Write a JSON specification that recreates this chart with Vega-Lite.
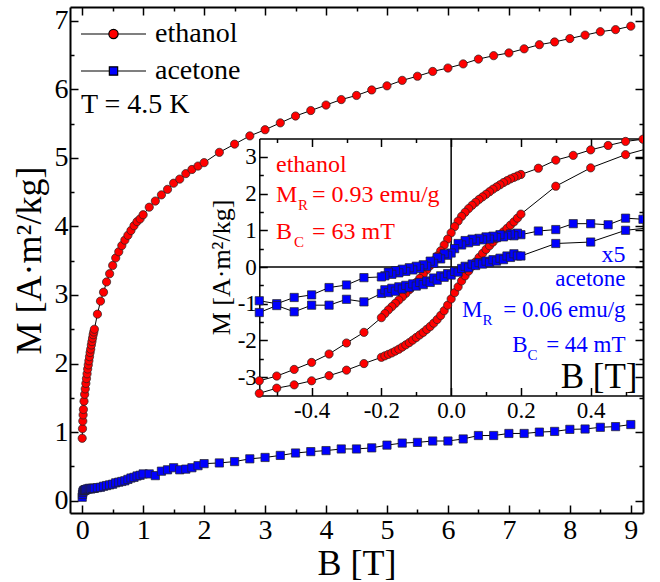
{
"$schema":"https://vega.github.io/schema/vega-lite/v6.json",
"width":573,"height":506,
"autosize":"none",
"padding":{"left":70,"top":7,"right":17,"bottom":69},
"background":"white",
"config":{"view":{"stroke":null},"font":"Liberation Serif",
"axis":{"grid":false,"domainColor":"#000","tickColor":"#000","labelColor":"#000","titleColor":"#000","labelFont":"Liberation Serif","titleFont":"Liberation Serif","titleFontWeight":"normal","labelFlush":false,"labelOverlap":false,"labelBound":false,"tickWidth":1.5,"domainWidth":2}},
"data":{"values":[{}]},
"datasets":{
"main":[
{"s":"ethanol","B":0,"M":0.91},{"s":"ethanol","B":0.005,"M":1.05},{"s":"ethanol","B":0.01,"M":1.16},{"s":"ethanol","B":0.015,"M":1.25},{"s":"ethanol","B":0.02,"M":1.33},{"s":"ethanol","B":0.03,"M":1.45},{"s":"ethanol","B":0.04,"M":1.55},{"s":"ethanol","B":0.05,"M":1.63},{"s":"ethanol","B":0.06,"M":1.71},{"s":"ethanol","B":0.07,"M":1.78},{"s":"ethanol","B":0.08,"M":1.85},{"s":"ethanol","B":0.09,"M":1.92},{"s":"ethanol","B":0.1,"M":1.98},{"s":"ethanol","B":0.11,"M":2.04},{"s":"ethanol","B":0.12,"M":2.1},{"s":"ethanol","B":0.13,"M":2.16},{"s":"ethanol","B":0.14,"M":2.21},{"s":"ethanol","B":0.15,"M":2.27},{"s":"ethanol","B":0.16,"M":2.32},{"s":"ethanol","B":0.17,"M":2.37},{"s":"ethanol","B":0.18,"M":2.42},{"s":"ethanol","B":0.19,"M":2.46},{"s":"ethanol","B":0.2,"M":2.5},
{"s":"ethanol","B":0.25,"M":2.72},{"s":"ethanol","B":0.3,"M":2.91},{"s":"ethanol","B":0.35,"M":3.04},{"s":"ethanol","B":0.4,"M":3.19},{"s":"ethanol","B":0.45,"M":3.31},{"s":"ethanol","B":0.5,"M":3.43},{"s":"ethanol","B":0.55,"M":3.54},{"s":"ethanol","B":0.6,"M":3.63},{"s":"ethanol","B":0.65,"M":3.72},{"s":"ethanol","B":0.7,"M":3.8},{"s":"ethanol","B":0.75,"M":3.87},{"s":"ethanol","B":0.8,"M":3.94},{"s":"ethanol","B":0.85,"M":4.01},{"s":"ethanol","B":0.9,"M":4.07},{"s":"ethanol","B":0.95,"M":4.11},{"s":"ethanol","B":1,"M":4.17},
{"s":"ethanol","B":1.1,"M":4.28},{"s":"ethanol","B":1.2,"M":4.37},{"s":"ethanol","B":1.3,"M":4.46},{"s":"ethanol","B":1.4,"M":4.54},{"s":"ethanol","B":1.5,"M":4.63},{"s":"ethanol","B":1.6,"M":4.69},{"s":"ethanol","B":1.7,"M":4.77},{"s":"ethanol","B":1.8,"M":4.83},{"s":"ethanol","B":1.9,"M":4.88},{"s":"ethanol","B":2,"M":4.93},
{"s":"ethanol","B":2.25,"M":5.08},{"s":"ethanol","B":2.5,"M":5.2},{"s":"ethanol","B":2.75,"M":5.32},{"s":"ethanol","B":3,"M":5.41},{"s":"ethanol","B":3.25,"M":5.51},{"s":"ethanol","B":3.5,"M":5.61},{"s":"ethanol","B":3.75,"M":5.69},{"s":"ethanol","B":4,"M":5.77},{"s":"ethanol","B":4.25,"M":5.85},{"s":"ethanol","B":4.5,"M":5.91},{"s":"ethanol","B":4.75,"M":5.99},{"s":"ethanol","B":5,"M":6.05},{"s":"ethanol","B":5.25,"M":6.13},{"s":"ethanol","B":5.5,"M":6.19},{"s":"ethanol","B":5.75,"M":6.26},{"s":"ethanol","B":6,"M":6.31},{"s":"ethanol","B":6.25,"M":6.37},{"s":"ethanol","B":6.5,"M":6.44},{"s":"ethanol","B":6.75,"M":6.49},{"s":"ethanol","B":7,"M":6.53},{"s":"ethanol","B":7.25,"M":6.59},{"s":"ethanol","B":7.5,"M":6.65},{"s":"ethanol","B":7.75,"M":6.69},{"s":"ethanol","B":8,"M":6.74},{"s":"ethanol","B":8.25,"M":6.79},{"s":"ethanol","B":8.5,"M":6.84},{"s":"ethanol","B":8.75,"M":6.87},{"s":"ethanol","B":9,"M":6.92},
{"s":"acetone","B":0,"M":0.05},{"s":"acetone","B":0.005,"M":0.09},{"s":"acetone","B":0.01,"M":0.12},{"s":"acetone","B":0.02,"M":0.14},{"s":"acetone","B":0.03,"M":0.15},{"s":"acetone","B":0.04,"M":0.15},{"s":"acetone","B":0.05,"M":0.16},{"s":"acetone","B":0.06,"M":0.16},{"s":"acetone","B":0.08,"M":0.17},{"s":"acetone","B":0.1,"M":0.17},{"s":"acetone","B":0.12,"M":0.18},{"s":"acetone","B":0.14,"M":0.17},{"s":"acetone","B":0.16,"M":0.18},{"s":"acetone","B":0.18,"M":0.18},{"s":"acetone","B":0.2,"M":0.18},
{"s":"acetone","B":0.25,"M":0.19},{"s":"acetone","B":0.3,"M":0.195},{"s":"acetone","B":0.35,"M":0.21},{"s":"acetone","B":0.4,"M":0.22},{"s":"acetone","B":0.45,"M":0.23},{"s":"acetone","B":0.5,"M":0.24},{"s":"acetone","B":0.55,"M":0.26},{"s":"acetone","B":0.6,"M":0.27},{"s":"acetone","B":0.65,"M":0.28},{"s":"acetone","B":0.7,"M":0.29},{"s":"acetone","B":0.75,"M":0.31},{"s":"acetone","B":0.8,"M":0.33},{"s":"acetone","B":0.85,"M":0.34},{"s":"acetone","B":0.9,"M":0.36},{"s":"acetone","B":0.95,"M":0.37},{"s":"acetone","B":1,"M":0.39},
{"s":"acetone","B":1.1,"M":0.39},{"s":"acetone","B":1.2,"M":0.365},{"s":"acetone","B":1.3,"M":0.43},{"s":"acetone","B":1.4,"M":0.45},{"s":"acetone","B":1.5,"M":0.48},{"s":"acetone","B":1.6,"M":0.45},{"s":"acetone","B":1.7,"M":0.46},{"s":"acetone","B":1.8,"M":0.48},{"s":"acetone","B":1.9,"M":0.51},{"s":"acetone","B":2,"M":0.54},
{"s":"acetone","B":2.25,"M":0.55},{"s":"acetone","B":2.5,"M":0.57},{"s":"acetone","B":2.75,"M":0.61},{"s":"acetone","B":3,"M":0.63},{"s":"acetone","B":3.25,"M":0.66},{"s":"acetone","B":3.5,"M":0.695},{"s":"acetone","B":3.75,"M":0.715},{"s":"acetone","B":4,"M":0.73},{"s":"acetone","B":4.25,"M":0.754},{"s":"acetone","B":4.5,"M":0.754},{"s":"acetone","B":4.75,"M":0.77},{"s":"acetone","B":5,"M":0.81},{"s":"acetone","B":5.25,"M":0.84},{"s":"acetone","B":5.5,"M":0.85},{"s":"acetone","B":5.75,"M":0.87},{"s":"acetone","B":6,"M":0.87},{"s":"acetone","B":6.25,"M":0.9},{"s":"acetone","B":6.5,"M":0.95},{"s":"acetone","B":6.75,"M":0.95},{"s":"acetone","B":7,"M":0.98},{"s":"acetone","B":7.25,"M":0.98},{"s":"acetone","B":7.5,"M":1.0},{"s":"acetone","B":7.75,"M":1.01},{"s":"acetone","B":8,"M":1.04},{"s":"acetone","B":8.25,"M":1.045},{"s":"acetone","B":8.5,"M":1.07},{"s":"acetone","B":8.75,"M":1.08},{"s":"acetone","B":9,"M":1.11}
],
"loop":[
{"s":"ethanol","br":"down","B":0.55,"M":3.48},{"s":"ethanol","br":"down","B":0.5,"M":3.42},{"s":"ethanol","br":"down","B":0.45,"M":3.31},{"s":"ethanol","br":"down","B":0.4,"M":3.19},{"s":"ethanol","br":"down","B":0.35,"M":3.04},{"s":"ethanol","br":"down","B":0.3,"M":2.91},{"s":"ethanol","br":"down","B":0.25,"M":2.69},
{"s":"ethanol","br":"down","B":0.2,"M":2.52},{"s":"ethanol","br":"down","B":0.19,"M":2.48},{"s":"ethanol","br":"down","B":0.18,"M":2.44},{"s":"ethanol","br":"down","B":0.17,"M":2.4},{"s":"ethanol","br":"down","B":0.16,"M":2.35},{"s":"ethanol","br":"down","B":0.15,"M":2.3},{"s":"ethanol","br":"down","B":0.14,"M":2.24},{"s":"ethanol","br":"down","B":0.13,"M":2.18},{"s":"ethanol","br":"down","B":0.12,"M":2.12},{"s":"ethanol","br":"down","B":0.11,"M":2.05},{"s":"ethanol","br":"down","B":0.1,"M":1.98},{"s":"ethanol","br":"down","B":0.09,"M":1.91},{"s":"ethanol","br":"down","B":0.08,"M":1.84},{"s":"ethanol","br":"down","B":0.07,"M":1.76},{"s":"ethanol","br":"down","B":0.06,"M":1.68},{"s":"ethanol","br":"down","B":0.05,"M":1.59},{"s":"ethanol","br":"down","B":0.04,"M":1.49},{"s":"ethanol","br":"down","B":0.03,"M":1.38},{"s":"ethanol","br":"down","B":0.02,"M":1.25},{"s":"ethanol","br":"down","B":0.01,"M":1.1},{"s":"ethanol","br":"down","B":0,"M":0.93},{"s":"ethanol","br":"down","B":-0.01,"M":0.76},{"s":"ethanol","br":"down","B":-0.02,"M":0.6},{"s":"ethanol","br":"down","B":-0.03,"M":0.44},{"s":"ethanol","br":"down","B":-0.04,"M":0.3},{"s":"ethanol","br":"down","B":-0.05,"M":0.17},{"s":"ethanol","br":"down","B":-0.06,"M":0.04},{"s":"ethanol","br":"down","B":-0.07,"M":-0.08},{"s":"ethanol","br":"down","B":-0.08,"M":-0.2},{"s":"ethanol","br":"down","B":-0.09,"M":-0.31},{"s":"ethanol","br":"down","B":-0.1,"M":-0.42},{"s":"ethanol","br":"down","B":-0.11,"M":-0.52},{"s":"ethanol","br":"down","B":-0.12,"M":-0.62},{"s":"ethanol","br":"down","B":-0.13,"M":-0.72},{"s":"ethanol","br":"down","B":-0.14,"M":-0.81},{"s":"ethanol","br":"down","B":-0.15,"M":-0.9},{"s":"ethanol","br":"down","B":-0.16,"M":-0.99},{"s":"ethanol","br":"down","B":-0.17,"M":-1.08},{"s":"ethanol","br":"down","B":-0.18,"M":-1.17},{"s":"ethanol","br":"down","B":-0.19,"M":-1.27},{"s":"ethanol","br":"down","B":-0.2,"M":-1.38},
{"s":"ethanol","br":"down","B":-0.25,"M":-1.78},{"s":"ethanol","br":"down","B":-0.3,"M":-2.07},{"s":"ethanol","br":"down","B":-0.35,"M":-2.37},{"s":"ethanol","br":"down","B":-0.4,"M":-2.6},{"s":"ethanol","br":"down","B":-0.45,"M":-2.79},{"s":"ethanol","br":"down","B":-0.5,"M":-2.97},{"s":"ethanol","br":"down","B":-0.55,"M":-3.1},
{"s":"ethanol","br":"up","B":-0.55,"M":-3.44},{"s":"ethanol","br":"up","B":-0.5,"M":-3.3},{"s":"ethanol","br":"up","B":-0.45,"M":-3.21},{"s":"ethanol","br":"up","B":-0.4,"M":-3.1},{"s":"ethanol","br":"up","B":-0.35,"M":-2.96},{"s":"ethanol","br":"up","B":-0.3,"M":-2.81},{"s":"ethanol","br":"up","B":-0.25,"M":-2.63},
{"s":"ethanol","br":"up","B":-0.2,"M":-2.46},{"s":"ethanol","br":"up","B":-0.19,"M":-2.42},{"s":"ethanol","br":"up","B":-0.18,"M":-2.38},{"s":"ethanol","br":"up","B":-0.17,"M":-2.34},{"s":"ethanol","br":"up","B":-0.16,"M":-2.29},{"s":"ethanol","br":"up","B":-0.15,"M":-2.24},{"s":"ethanol","br":"up","B":-0.14,"M":-2.18},{"s":"ethanol","br":"up","B":-0.13,"M":-2.12},{"s":"ethanol","br":"up","B":-0.12,"M":-2.06},{"s":"ethanol","br":"up","B":-0.11,"M":-1.99},{"s":"ethanol","br":"up","B":-0.1,"M":-1.92},{"s":"ethanol","br":"up","B":-0.09,"M":-1.85},{"s":"ethanol","br":"up","B":-0.08,"M":-1.78},{"s":"ethanol","br":"up","B":-0.07,"M":-1.7},{"s":"ethanol","br":"up","B":-0.06,"M":-1.62},{"s":"ethanol","br":"up","B":-0.05,"M":-1.53},{"s":"ethanol","br":"up","B":-0.04,"M":-1.43},{"s":"ethanol","br":"up","B":-0.03,"M":-1.32},{"s":"ethanol","br":"up","B":-0.02,"M":-1.19},{"s":"ethanol","br":"up","B":-0.01,"M":-1.04},{"s":"ethanol","br":"up","B":0,"M":-0.87},{"s":"ethanol","br":"up","B":0.01,"M":-0.7},{"s":"ethanol","br":"up","B":0.02,"M":-0.54},{"s":"ethanol","br":"up","B":0.03,"M":-0.38},{"s":"ethanol","br":"up","B":0.04,"M":-0.24},{"s":"ethanol","br":"up","B":0.05,"M":-0.11},{"s":"ethanol","br":"up","B":0.06,"M":0.02},{"s":"ethanol","br":"up","B":0.07,"M":0.14},{"s":"ethanol","br":"up","B":0.08,"M":0.26},{"s":"ethanol","br":"up","B":0.09,"M":0.37},{"s":"ethanol","br":"up","B":0.1,"M":0.48},{"s":"ethanol","br":"up","B":0.11,"M":0.58},{"s":"ethanol","br":"up","B":0.12,"M":0.68},{"s":"ethanol","br":"up","B":0.13,"M":0.78},{"s":"ethanol","br":"up","B":0.14,"M":0.87},{"s":"ethanol","br":"up","B":0.15,"M":0.96},{"s":"ethanol","br":"up","B":0.16,"M":1.05},{"s":"ethanol","br":"up","B":0.17,"M":1.14},{"s":"ethanol","br":"up","B":0.18,"M":1.23},{"s":"ethanol","br":"up","B":0.19,"M":1.33},{"s":"ethanol","br":"up","B":0.2,"M":1.44},
{"s":"ethanol","br":"up","B":0.3,"M":2.2},{"s":"ethanol","br":"up","B":0.4,"M":2.7},{"s":"ethanol","br":"up","B":0.5,"M":3.06},{"s":"ethanol","br":"up","B":0.6,"M":3.32},
{"s":"acetone","br":"down","B":0.55,"M":1.3},{"s":"acetone","br":"down","B":0.5,"M":1.33},{"s":"acetone","br":"down","B":0.45,"M":1.15},{"s":"acetone","br":"down","B":0.4,"M":1.18},{"s":"acetone","br":"down","B":0.35,"M":1.18},{"s":"acetone","br":"down","B":0.3,"M":1.02},{"s":"acetone","br":"down","B":0.25,"M":0.98},
{"s":"acetone","br":"down","B":0.2,"M":0.88},{"s":"acetone","br":"down","B":0.19,"M":0.92},{"s":"acetone","br":"down","B":0.18,"M":0.85},{"s":"acetone","br":"down","B":0.17,"M":0.9},{"s":"acetone","br":"down","B":0.16,"M":0.86},{"s":"acetone","br":"down","B":0.15,"M":0.82},{"s":"acetone","br":"down","B":0.14,"M":0.88},{"s":"acetone","br":"down","B":0.13,"M":0.8},{"s":"acetone","br":"down","B":0.12,"M":0.84},{"s":"acetone","br":"down","B":0.11,"M":0.76},{"s":"acetone","br":"down","B":0.1,"M":0.82},{"s":"acetone","br":"down","B":0.09,"M":0.74},{"s":"acetone","br":"down","B":0.08,"M":0.78},{"s":"acetone","br":"down","B":0.07,"M":0.7},{"s":"acetone","br":"down","B":0.06,"M":0.76},{"s":"acetone","br":"down","B":0.05,"M":0.66},{"s":"acetone","br":"down","B":0.04,"M":0.72},{"s":"acetone","br":"down","B":0.03,"M":0.6},{"s":"acetone","br":"down","B":0.02,"M":0.64},{"s":"acetone","br":"down","B":0.01,"M":0.5},{"s":"acetone","br":"down","B":0,"M":0.38},{"s":"acetone","br":"down","B":-0.01,"M":0.32},{"s":"acetone","br":"down","B":-0.02,"M":0.36},{"s":"acetone","br":"down","B":-0.03,"M":0.22},{"s":"acetone","br":"down","B":-0.04,"M":0.26},{"s":"acetone","br":"down","B":-0.05,"M":0.1},{"s":"acetone","br":"down","B":-0.06,"M":0.16},{"s":"acetone","br":"down","B":-0.07,"M":0.02},{"s":"acetone","br":"down","B":-0.08,"M":0.06},{"s":"acetone","br":"down","B":-0.09,"M":-0.04},{"s":"acetone","br":"down","B":-0.1,"M":0.02},{"s":"acetone","br":"down","B":-0.11,"M":-0.08},{"s":"acetone","br":"down","B":-0.12,"M":-0.02},{"s":"acetone","br":"down","B":-0.13,"M":-0.12},{"s":"acetone","br":"down","B":-0.14,"M":-0.06},{"s":"acetone","br":"down","B":-0.15,"M":-0.16},{"s":"acetone","br":"down","B":-0.16,"M":-0.1},{"s":"acetone","br":"down","B":-0.17,"M":-0.2},{"s":"acetone","br":"down","B":-0.18,"M":-0.14},{"s":"acetone","br":"down","B":-0.19,"M":-0.24},{"s":"acetone","br":"down","B":-0.2,"M":-0.27},
{"s":"acetone","br":"down","B":-0.25,"M":-0.29},{"s":"acetone","br":"down","B":-0.3,"M":-0.49},{"s":"acetone","br":"down","B":-0.35,"M":-0.56},{"s":"acetone","br":"down","B":-0.4,"M":-0.76},{"s":"acetone","br":"down","B":-0.45,"M":-0.83},{"s":"acetone","br":"down","B":-0.5,"M":-1.0},{"s":"acetone","br":"down","B":-0.55,"M":-0.92},
{"s":"acetone","br":"up","B":-0.55,"M":-1.24},{"s":"acetone","br":"up","B":-0.5,"M":-1.05},{"s":"acetone","br":"up","B":-0.45,"M":-1.22},{"s":"acetone","br":"up","B":-0.4,"M":-1.04},{"s":"acetone","br":"up","B":-0.35,"M":-1.04},{"s":"acetone","br":"up","B":-0.3,"M":-0.88},{"s":"acetone","br":"up","B":-0.25,"M":-0.95},
{"s":"acetone","br":"up","B":-0.2,"M":-0.72},{"s":"acetone","br":"up","B":-0.19,"M":-0.62},{"s":"acetone","br":"up","B":-0.18,"M":-0.7},{"s":"acetone","br":"up","B":-0.17,"M":-0.58},{"s":"acetone","br":"up","B":-0.16,"M":-0.66},{"s":"acetone","br":"up","B":-0.15,"M":-0.54},{"s":"acetone","br":"up","B":-0.14,"M":-0.6},{"s":"acetone","br":"up","B":-0.13,"M":-0.5},{"s":"acetone","br":"up","B":-0.12,"M":-0.56},{"s":"acetone","br":"up","B":-0.11,"M":-0.46},{"s":"acetone","br":"up","B":-0.1,"M":-0.52},{"s":"acetone","br":"up","B":-0.09,"M":-0.42},{"s":"acetone","br":"up","B":-0.08,"M":-0.48},{"s":"acetone","br":"up","B":-0.07,"M":-0.38},{"s":"acetone","br":"up","B":-0.06,"M":-0.42},{"s":"acetone","br":"up","B":-0.05,"M":-0.3},{"s":"acetone","br":"up","B":-0.04,"M":-0.36},{"s":"acetone","br":"up","B":-0.03,"M":-0.24},{"s":"acetone","br":"up","B":-0.02,"M":-0.28},{"s":"acetone","br":"up","B":-0.01,"M":-0.18},{"s":"acetone","br":"up","B":0,"M":-0.22},{"s":"acetone","br":"up","B":0.01,"M":-0.12},{"s":"acetone","br":"up","B":0.02,"M":-0.14},{"s":"acetone","br":"up","B":0.03,"M":-0.04},{"s":"acetone","br":"up","B":0.04,"M":0.02},{"s":"acetone","br":"up","B":0.05,"M":-0.02},{"s":"acetone","br":"up","B":0.06,"M":0.08},{"s":"acetone","br":"up","B":0.07,"M":0.04},{"s":"acetone","br":"up","B":0.08,"M":0.12},{"s":"acetone","br":"up","B":0.09,"M":0.08},{"s":"acetone","br":"up","B":0.1,"M":0.16},{"s":"acetone","br":"up","B":0.11,"M":0.12},{"s":"acetone","br":"up","B":0.12,"M":0.2},{"s":"acetone","br":"up","B":0.13,"M":0.16},{"s":"acetone","br":"up","B":0.14,"M":0.24},{"s":"acetone","br":"up","B":0.15,"M":0.2},{"s":"acetone","br":"up","B":0.16,"M":0.3},{"s":"acetone","br":"up","B":0.17,"M":0.26},{"s":"acetone","br":"up","B":0.18,"M":0.36},{"s":"acetone","br":"up","B":0.19,"M":0.3},{"s":"acetone","br":"up","B":0.2,"M":0.3},
{"s":"acetone","br":"up","B":0.3,"M":0.64},{"s":"acetone","br":"up","B":0.4,"M":0.68},{"s":"acetone","br":"up","B":0.5,"M":1.0},{"s":"acetone","br":"up","B":0.6,"M":1.1}
]},
"resolve":{"scale":{"x":"independent","y":"independent","fill":"independent"},"axis":{"x":"independent","y":"independent"},"legend":{"fill":"independent"}},
"layer":[
{"data":{"name":"main"},"transform":[{"filter":"datum.s==='ethanol'"}],
 "mark":{"type":"line","color":"#000","strokeWidth":1},
 "encoding":{
  "x":{"field":"B","type":"quantitative","scale":{"domain":[-0.2,9.2],"nice":false,"zero":false},
   "axis":{"orient":"bottom","values":[0,1,2,3,4,5,6,7,8,9],"format":"d","tickSize":-8,"labelPadding":11,"labelFontSize":28,"title":"B [T]","titleFontSize":36,"titlePadding":2}},
  "y":{"field":"M","type":"quantitative","scale":{"domain":[-0.18,7.2],"nice":false,"zero":false},
   "axis":{"orient":"left","values":[0,1,2,3,4,5,6,7],"format":"d","tickSize":-8,"labelPadding":10,"labelFontSize":28,"title":"M [A·m²/kg]","titleFontSize":36,"titlePadding":6}}}},
{"data":{"name":"main"},"transform":[{"filter":"datum.s==='acetone'"}],
 "mark":{"type":"line","color":"#000","strokeWidth":1},
 "encoding":{
  "x":{"field":"B","type":"quantitative","scale":{"domain":[-0.2,9.2],"nice":false,"zero":false},
   "axis":{"orient":"bottom","values":[0.5,1.5,2.5,3.5,4.5,5.5,6.5,7.5,8.5],"tickSize":-4,"labels":false,"domain":false,"title":null}},
  "y":{"field":"M","type":"quantitative","scale":{"domain":[-0.18,7.2],"nice":false,"zero":false},
   "axis":{"orient":"left","values":[0.5,1.5,2.5,3.5,4.5,5.5,6.5],"tickSize":-4,"labels":false,"domain":false,"title":null}}}},
{"data":{"name":"main"},"transform":[{"filter":"datum.s==='ethanol'"}],
 "mark":{"type":"point","shape":"circle","filled":true,"size":68,"stroke":"#222","strokeWidth":0.7,"opacity":1},
 "encoding":{
  "x":{"field":"B","type":"quantitative","scale":{"domain":[-0.2,9.2],"nice":false,"zero":false},
   "axis":{"orient":"top","values":[0,1,2,3,4,5,6,7,8,9],"tickSize":-8,"labels":false,"title":null}},
  "y":{"field":"M","type":"quantitative","scale":{"domain":[-0.18,7.2],"nice":false,"zero":false},
   "axis":{"orient":"right","values":[0,1,2,3,4,5,6,7],"tickSize":-8,"labels":false,"title":null}},
  "fill":{"field":"s","type":"nominal","scale":{"domain":["ethanol"],"range":["#ff0000"]},
   "legend":{"orient":"none","legendX":10,"legendY":-6.5,"title":null,"padding":0,"symbolType":"M-1,0H-0.143M0.143,0H1M-0.143,0A0.143,0.143,0,1,1,0.143,0A0.143,0.143,0,1,1,-0.143,0Z","symbolSize":4225,"symbolStrokeColor":"#000","symbolStrokeWidth":1.2,"labelFont":"Liberation Serif","labelFontSize":28,"labelColor":"#000","labelOffset":8}}}},
{"data":{"name":"main"},"transform":[{"filter":"datum.s==='acetone'"}],
 "mark":{"type":"point","shape":"square","filled":true,"size":68,"stroke":"#222","strokeWidth":0.7,"opacity":1},
 "encoding":{
  "x":{"field":"B","type":"quantitative","scale":{"domain":[-0.2,9.2],"nice":false,"zero":false},
   "axis":{"orient":"top","values":[0.5,1.5,2.5,3.5,4.5,5.5,6.5,7.5,8.5],"tickSize":-4,"labels":false,"domain":false,"title":null}},
  "y":{"field":"M","type":"quantitative","scale":{"domain":[-0.18,7.2],"nice":false,"zero":false},
   "axis":{"orient":"right","values":[0.5,1.5,2.5,3.5,4.5,5.5,6.5],"tickSize":-4,"labels":false,"domain":false,"title":null}},
  "fill":{"field":"s","type":"nominal","scale":{"domain":["acetone"],"range":["#0000ff"]},
   "legend":{"orient":"none","legendX":10,"legendY":30.5,"title":null,"padding":0,"symbolType":"M-1,0H-0.128M0.128,0H1M-0.128,-0.128H0.128V0.128H-0.128Z","symbolSize":4225,"symbolStrokeColor":"#000","symbolStrokeWidth":1.2,"labelFont":"Liberation Serif","labelFontSize":28,"labelColor":"#000","labelOffset":8}}}},
{"mark":{"type":"text","text":"T = 4.5 K","align":"left","baseline":"alphabetic","font":"Liberation Serif","fontSize":28,"color":"#000"},
 "encoding":{"x":{"datum":-0.02,"type":"quantitative","scale":{"domain":[-0.2,9.2],"nice":false,"zero":false},"axis":null},
  "y":{"datum":5.65,"type":"quantitative","scale":{"domain":[-0.18,7.2],"nice":false,"zero":false},"axis":null}}},
{"mark":{"type":"rule","color":"#000","strokeWidth":1.5},
 "encoding":{"x":{"datum":0,"type":"quantitative","scale":{"domain":[-0.55,0.55],"nice":false,"zero":false,"range":[189.3,573]},"axis":null},
  "y":{"datum":-3.5,"type":"quantitative","scale":{"domain":[-3.5,3.5],"nice":false,"zero":false,"range":[388.5,131.5]},"axis":null},
  "y2":{"datum":3.5}}},
{"mark":{"type":"rule","color":"#000","strokeWidth":1.5},
 "encoding":{"x":{"datum":-0.55,"type":"quantitative","scale":{"domain":[-0.55,0.55],"nice":false,"zero":false,"range":[189.3,573]},"axis":null},
  "x2":{"datum":0.55},
  "y":{"datum":0,"type":"quantitative","scale":{"domain":[-3.5,3.5],"nice":false,"zero":false,"range":[388.5,131.5]},"axis":null}}},
{"data":{"name":"loop"},"transform":[{"filter":"datum.s==='ethanol'"}],
 "mark":{"type":"line","color":"#000","strokeWidth":1,"clip":true},
 "encoding":{
  "x":{"field":"B","type":"quantitative","scale":{"domain":[-0.55,0.55],"nice":false,"zero":false,"range":[189.3,573]},
   "axis":{"orient":"bottom","offset":-117.5,"values":[-0.4,-0.2,0,0.2,0.4],"format":".1f","labelExpr":"replace(datum.label, '−', '-')","tickSize":-8,"labelPadding":12,"labelFontSize":23,"domainWidth":1.5,"title":"B [T]","titleFontSize":35,"titleX":567,"titleY":-8,"titleAlign":"right","titleBaseline":"alphabetic"}},
  "y":{"field":"M","type":"quantitative","scale":{"domain":[-3.5,3.5],"nice":false,"zero":false,"range":[388.5,131.5]},
   "axis":{"orient":"left","offset":-189.3,"values":[-3,-2,-1,0,1,2,3],"format":"d","labelExpr":"replace(datum.label, '−', '-')","tickSize":-8,"labelPadding":11,"labelFontSize":23,"domainWidth":1.5,"title":"M [A·m²/kg]","titleFontSize":26,"titlePadding":3}},
  "detail":{"field":"br"}}},
{"data":{"name":"loop"},"transform":[{"filter":"datum.s==='acetone'"}],
 "mark":{"type":"line","color":"#000","strokeWidth":1,"clip":true},
 "encoding":{
  "x":{"field":"B","type":"quantitative","scale":{"domain":[-0.55,0.55],"nice":false,"zero":false,"range":[189.3,573]},
   "axis":{"orient":"bottom","offset":-117.5,"values":[-0.5,-0.3,-0.1,0.1,0.3,0.5],"tickSize":-4,"labels":false,"domain":false,"title":null}},
  "y":{"field":"M","type":"quantitative","scale":{"domain":[-3.5,3.5],"nice":false,"zero":false,"range":[388.5,131.5]},
   "axis":{"orient":"left","offset":-189.3,"values":[-2.5,-1.5,-0.5,0.5,1.5,2.5],"tickSize":-4,"labels":false,"domain":false,"title":null}},
  "detail":{"field":"br"}}},
{"data":{"name":"loop"},"transform":[{"filter":"datum.s==='ethanol' && datum.B<=0.56"}],
 "mark":{"type":"point","shape":"circle","filled":true,"size":68,"color":"#ff0000","stroke":"#222","strokeWidth":0.7,"opacity":1,"clip":true},
 "encoding":{
  "x":{"field":"B","type":"quantitative","scale":{"domain":[-0.55,0.55],"nice":false,"zero":false,"range":[189.3,573]},
   "axis":{"orient":"top","offset":-131.5,"values":[-0.4,-0.2,0,0.2,0.4],"tickSize":-8,"labels":false,"domainWidth":1.5,"title":null}},
  "y":{"field":"M","type":"quantitative","scale":{"domain":[-3.5,3.5],"nice":false,"zero":false,"range":[388.5,131.5]},
   "axis":{"orient":"right","values":[-3,-2,-1,0,1,2,3],"tickSize":-8,"labels":false,"domain":false,"title":null}}}},
{"data":{"name":"loop"},"transform":[{"filter":"datum.s==='acetone' && datum.B<=0.56"}],
 "mark":{"type":"point","shape":"square","filled":true,"size":68,"color":"#0000ff","stroke":"#222","strokeWidth":0.7,"opacity":1,"clip":true},
 "encoding":{
  "x":{"field":"B","type":"quantitative","scale":{"domain":[-0.55,0.55],"nice":false,"zero":false,"range":[189.3,573]},
   "axis":{"orient":"top","offset":-131.5,"values":[-0.5,-0.3,-0.1,0.1,0.3,0.5],"tickSize":-4,"labels":false,"domain":false,"title":null}},
  "y":{"field":"M","type":"quantitative","scale":{"domain":[-3.5,3.5],"nice":false,"zero":false,"range":[388.5,131.5]},
   "axis":{"orient":"right","values":[-2.5,-1.5,-0.5,0.5,1.5,2.5],"tickSize":-4,"labels":false,"domain":false,"title":null}}}},
{"layer":[
 {"mark":{"type":"text","text":"ethanol","align":"left","baseline":"alphabetic","font":"Liberation Serif","fontSize":24,"color":"#ff0000"},"encoding":{"y":{"datum":2.58,"type":"quantitative"}}},
 {"mark":{"type":"text","text":"M","align":"left","baseline":"alphabetic","font":"Liberation Serif","fontSize":24,"color":"#ff0000"},"encoding":{"y":{"datum":1.77,"type":"quantitative"}}},
 {"mark":{"type":"text","text":"R","align":"left","baseline":"alphabetic","font":"Liberation Serif","fontSize":15,"color":"#ff0000","dx":22,"dy":8},"encoding":{"y":{"datum":1.77,"type":"quantitative"}}},
 {"mark":{"type":"text","text":"= 0.93 emu/g","align":"left","baseline":"alphabetic","font":"Liberation Serif","fontSize":24,"color":"#ff0000","dx":36},"encoding":{"y":{"datum":1.77,"type":"quantitative"}}},
 {"mark":{"type":"text","text":"B","align":"left","baseline":"alphabetic","font":"Liberation Serif","fontSize":24,"color":"#ff0000"},"encoding":{"y":{"datum":0.77,"type":"quantitative"}}},
 {"mark":{"type":"text","text":"C","align":"left","baseline":"alphabetic","font":"Liberation Serif","fontSize":15,"color":"#ff0000","dx":18,"dy":8},"encoding":{"y":{"datum":0.77,"type":"quantitative"}}},
 {"mark":{"type":"text","text":"= 63 mT","align":"left","baseline":"alphabetic","font":"Liberation Serif","fontSize":24,"color":"#ff0000","dx":36},"encoding":{"y":{"datum":0.77,"type":"quantitative"}}}
 ],
 "encoding":{"x":{"datum":-0.502,"type":"quantitative","scale":{"domain":[-0.55,0.55],"nice":false,"zero":false,"range":[189.3,573]},"axis":null},
  "y":{"type":"quantitative","scale":{"domain":[-3.5,3.5],"nice":false,"zero":false,"range":[388.5,131.5]},"axis":null}}},
{"layer":[
 {"mark":{"type":"text","text":"x5","align":"right","baseline":"alphabetic","font":"Liberation Serif","fontSize":24,"color":"#0000ff"},"encoding":{"y":{"datum":0.13,"type":"quantitative"}}},
 {"mark":{"type":"text","text":"acetone","align":"right","baseline":"alphabetic","font":"Liberation Serif","fontSize":23,"color":"#0000ff"},"encoding":{"y":{"datum":-0.53,"type":"quantitative"}}},
 {"mark":{"type":"text","text":"= 0.06 emu/g","align":"right","baseline":"alphabetic","font":"Liberation Serif","fontSize":23,"color":"#0000ff"},"encoding":{"y":{"datum":-1.36,"type":"quantitative"}}},
 {"mark":{"type":"text","text":"R","align":"left","baseline":"alphabetic","font":"Liberation Serif","fontSize":15,"color":"#0000ff","dx":-143,"dy":8},"encoding":{"y":{"datum":-1.36,"type":"quantitative"}}},
 {"mark":{"type":"text","text":"M","align":"right","baseline":"alphabetic","font":"Liberation Serif","fontSize":23,"color":"#0000ff","dx":-143},"encoding":{"y":{"datum":-1.36,"type":"quantitative"}}},
 {"mark":{"type":"text","text":"= 44 mT","align":"right","baseline":"alphabetic","font":"Liberation Serif","fontSize":23,"color":"#0000ff"},"encoding":{"y":{"datum":-2.31,"type":"quantitative"}}},
 {"mark":{"type":"text","text":"C","align":"left","baseline":"alphabetic","font":"Liberation Serif","fontSize":15,"color":"#0000ff","dx":-98,"dy":8},"encoding":{"y":{"datum":-2.31,"type":"quantitative"}}},
 {"mark":{"type":"text","text":"B","align":"right","baseline":"alphabetic","font":"Liberation Serif","fontSize":23,"color":"#0000ff","dx":-98},"encoding":{"y":{"datum":-2.31,"type":"quantitative"}}}
 ],
 "encoding":{"x":{"datum":0.5,"type":"quantitative","scale":{"domain":[-0.55,0.55],"nice":false,"zero":false,"range":[189.3,573]},"axis":null},
  "y":{"type":"quantitative","scale":{"domain":[-3.5,3.5],"nice":false,"zero":false,"range":[388.5,131.5]},"axis":null}}}
]
}
